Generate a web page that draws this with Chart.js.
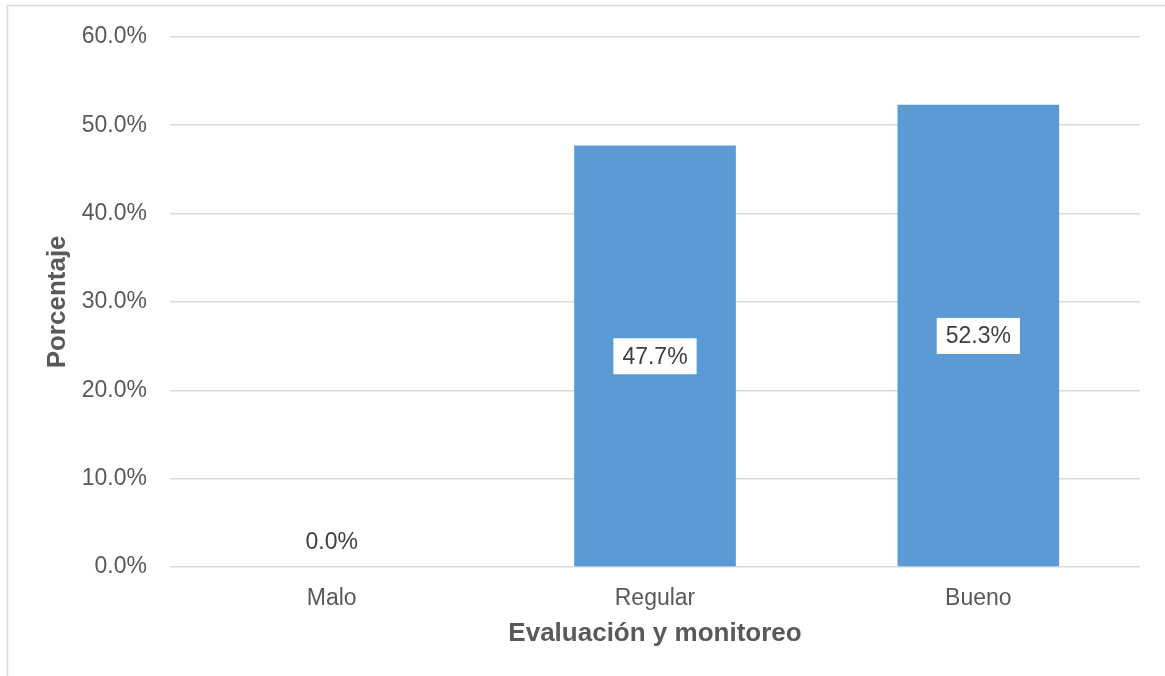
<!DOCTYPE html>
<html>
<head>
<meta charset="utf-8">
<script src="https://cdn.jsdelivr.net/npm/chart.js@4.4.1/dist/chart.umd.min.js"></script>
<style>
  html, body { margin: 0; padding: 0; background: #fff; }
  #wrap { position: relative; width: 1165px; height: 676px; }
</style>
</head>
<body>
<div id="wrap"><canvas id="c" width="1165" height="676"></canvas></div>
<script>
const categories = ["Malo", "Regular", "Bueno"];
const values = [0.0, 47.7, 52.3];
const yTicks = [0, 10, 20, 30, 40, 50, 60];
const xTitle = "Evaluación y monitoreo";
const yTitle = "Porcentaje";

const FONT = "'Liberation Sans', Arial, sans-serif";

const framePlugin = {
  id: 'frame',
  beforeDraw(chart) {
    const ctx = chart.ctx;
    ctx.save();
    ctx.fillStyle = '#ffffff';
    ctx.fillRect(0, 0, chart.width, chart.height);
    ctx.strokeStyle = '#d9d9d9';
    ctx.lineWidth = 1.5;
    ctx.strokeRect(7.5, 5.5, chart.width + 20, chart.height + 20);
    ctx.restore();
  }
};

const labelPlugin = {
  id: 'barLabels',
  afterDatasetsDraw(chart) {
    const ctx = chart.ctx;
    const meta = chart.getDatasetMeta(0);
    const yScale = chart.scales.y;
    ctx.save();
    ctx.font = "23px " + FONT;
    ctx.textAlign = 'center';
    ctx.textBaseline = 'middle';
    meta.data.forEach((bar, i) => {
      const v = values[i];
      const txt = v.toFixed(1) + '%';
      const base = yScale.getPixelForValue(0);
      const top = yScale.getPixelForValue(v);
      if (v > 0) {
        const cy = (base + top) / 2;
        const w = ctx.measureText(txt).width + 18;
        const h = 36;
        ctx.fillStyle = '#ffffff';
        ctx.fillRect(bar.x - w / 2, cy - h / 2, w, h);
        ctx.fillStyle = '#404040';
        ctx.fillText(txt, bar.x, cy + 1);
      } else {
        ctx.fillStyle = '#404040';
        ctx.fillText(txt, bar.x, base - 24);
      }
    });
    ctx.restore();
  }
};

new Chart(document.getElementById('c'), {
  type: 'bar',
  data: {
    labels: categories,
    datasets: [{
      data: values,
      backgroundColor: '#5b9bd5',
      borderWidth: 0,
      categoryPercentage: 0.5,
      barPercentage: 1.0
    }]
  },
  options: {
    responsive: false,
    animation: false,
    devicePixelRatio: 1,
    layout: { padding: { top: 36, right: 25, bottom: 0, left: 0 } },
    plugins: {
      legend: { display: false },
      tooltip: { enabled: false },
      title: { display: false }
    },
    scales: {
      x: {
        grid: { display: false, drawTicks: false },
        border: { display: false },
        ticks: { color: '#595959', font: { family: FONT, size: 23 }, padding: 18 },
        title: {
          display: true, text: xTitle, color: '#595959',
          font: { family: FONT, size: 26, weight: 'bold' },
          padding: { top: 0, bottom: 27 }
        },
        afterFit(scale) { scale.height = 109; }
      },
      y: {
        min: 0, max: 60,
        afterBuildTicks(scale) { scale.ticks = yTicks.map(v => ({ value: v })); },
        grid: { color: '#d9d9d9', lineWidth: 1.5, drawTicks: false },
        border: { display: false },
        ticks: {
          color: '#595959', font: { family: FONT, size: 23 }, padding: 23,
          callback: v => v.toFixed(1) + '%'
        },
        title: {
          display: true, text: yTitle, color: '#595959',
          font: { family: FONT, size: 26, weight: 'bold' },
          padding: { top: 42, bottom: 0 }
        },
        afterFit(scale) { scale.width = 170; }
      }
    }
  },
  plugins: [framePlugin, labelPlugin]
});
</script>
</body>
</html>
